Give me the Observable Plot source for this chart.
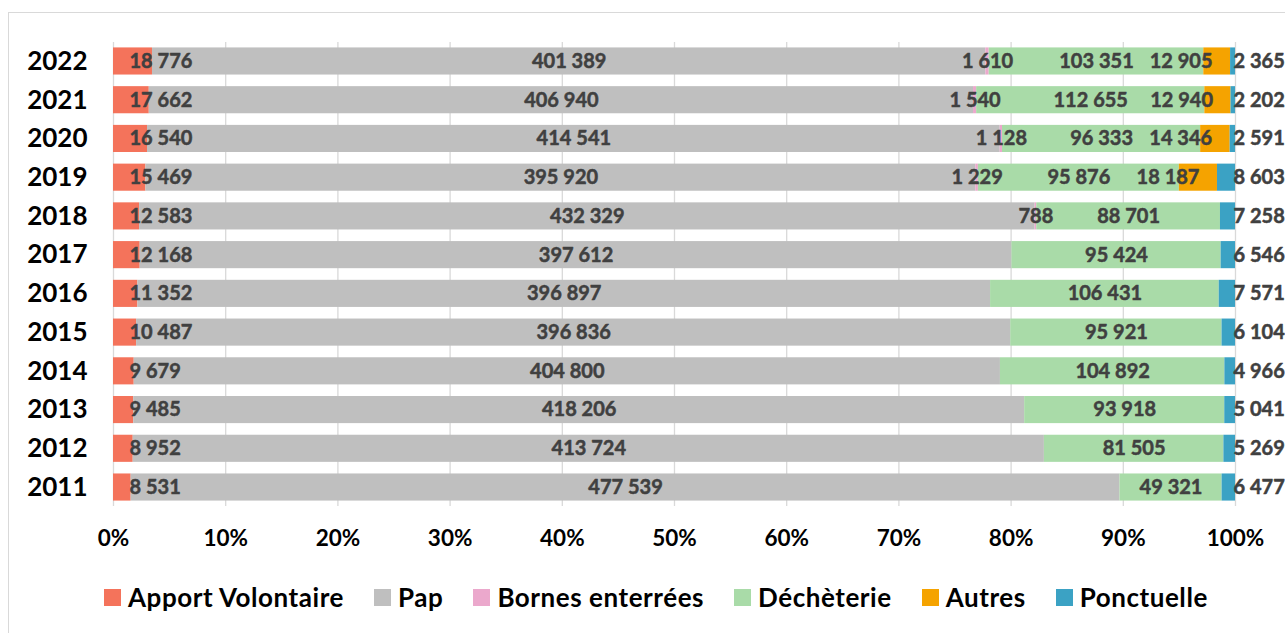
<!DOCTYPE html>
<html><head><meta charset="utf-8">
<script src="https://cdn.jsdelivr.net/npm/d3@7"></script>
<script src="https://cdn.jsdelivr.net/npm/@observablehq/plot@0.6"></script>
<style>
body{margin:0;background:#fff;font-family:Lato,"Open Sans",sans-serif;}
#wrap{position:relative;width:1285px;height:633px;overflow:hidden;}
#frame{position:absolute;left:8px;top:12px;width:1300px;height:650px;border:1px solid #d9d9d9;box-sizing:border-box;}
#chart{position:absolute;left:0;top:0;}
#legend{position:absolute;left:104px;top:582px;display:flex;gap:30px;font-weight:bold;font-size:26px;letter-spacing:0.55px;color:#000;align-items:center;line-height:30px;}
#legend span.it{display:flex;align-items:center;gap:7px;}
#legend i{display:inline-block;width:17px;height:17px;}
</style></head>
<body><div id="wrap"><div id="frame"></div><div id="chart"></div><div id="legend"></div></div>
<script>
const years      = [2011, 2012, 2013, 2014, 2015, 2016, 2017, 2018, 2019, 2020, 2021, 2022];
const apport     = [8531, 8952, 9485, 9679, 10487, 11352, 12168, 12583, 15469, 16540, 17662, 18776];
const pap        = [477539, 413724, 418206, 404800, 396836, 396897, 397612, 432329, 395920, 414541, 406940, 401389];
const bornes     = [null, null, null, null, null, null, null, 788, 1229, 1128, 1540, 1610];
const decheterie = [49321, 81505, 93918, 104892, 95921, 106431, 95424, 88701, 95876, 96333, 112655, 103351];
const autres     = [null, null, null, null, null, null, null, null, 18187, 14346, 12940, 12905];
const ponctuelle = [6477, 5269, 5041, 4966, 6104, 7571, 6546, 7258, 8603, 2591, 2202, 2365];
const categories = ["Apport Volontaire", "Pap", "Bornes enterrées", "Déchèterie", "Autres", "Ponctuelle"];
const colors     = ["#F4735B", "#BFBFBF", "#EBA8CC", "#A9DBA8", "#F5A300", "#3BA2C4"];
const ticks      = [0, 0.1, 0.2, 0.3, 0.4, 0.5, 0.6, 0.7, 0.8, 0.9, 1];

const series = [apport, pap, bornes, decheterie, autres, ponctuelle];
const rows = [];
years.forEach((y, i) => {
  const total = d3.sum(series, s => s[i] || 0);
  let acc = 0;
  series.forEach((s, k) => {
    const v = s[i];
    if (v == null) return;
    const x1 = acc / total; acc += v; const x2 = acc / total;
    rows.push({year: String(y), cat: categories[k], k, value: v, x1, x2, xm: (x1 + x2) / 2});
  });
});
const loc = d3.formatLocale({decimal: ",", thousands: "\u00a0", grouping: [3], currency: ["", "€"]});
const fmt = loc.format(",d");
const lab = {fill: "#404040", stroke: "#404040", strokeWidth: 0.5, fontWeight: "bold", fontSize: 20, text: d => fmt(d.value), y: "year"};

const plot = Plot.plot({
  width: 1285, height: 570,
  marginLeft: 113, marginRight: 50, marginTop: 42, marginBottom: 64,
  style: {fontFamily: "Lato, 'Open Sans', sans-serif", background: "transparent", overflow: "visible"},
  x: {domain: [0, 1], ticks, tickFormat: d3.format(".0%"), label: null},
  y: {domain: years.map(String).reverse(), paddingInner: 0.3, paddingOuter: 0.14, round: false, label: null},
  color: {domain: categories, range: colors},
  marks: [
    Plot.ruleX(ticks, {stroke: "#d9d9d9", strokeWidth: 1.3}),
    Plot.barX(rows, {x1: "x1", x2: "x2", y: "year", fill: "cat"}),
    Plot.text(rows.filter(d => d.k === 0), {...lab, x: "x1", textAnchor: "start", dx: 16}),
    Plot.text(rows.filter(d => d.k === 1 || d.k === 2 || d.k === 3), {...lab, x: "xm"}),
    Plot.text(rows.filter(d => d.k === 4), {...lab, x: "x2", textAnchor: "end", dx: -18}),
    Plot.text(rows.filter(d => d.k === 5), {...lab, x: "x2", textAnchor: "start", dx: -2}),
    Plot.axisX({ticks, tickFormat: d3.format(".0%"), tickSize: 0, tickPadding: 24, fontSize: 22.5, fontWeight: "bold", fill: "#000", label: null}),
    Plot.axisY({tickSize: 0, tickPadding: 26, fontSize: 26, fontWeight: "bold", fill: "#000", label: null})
  ]
});
document.getElementById("chart").appendChild(plot);

const leg = document.getElementById("legend");
categories.forEach((c, i) => {
  const s = document.createElement("span"); s.className = "it";
  s.innerHTML = `<i style="background:${colors[i]}"></i>${c}`;
  leg.appendChild(s);
});
</script></body></html>
